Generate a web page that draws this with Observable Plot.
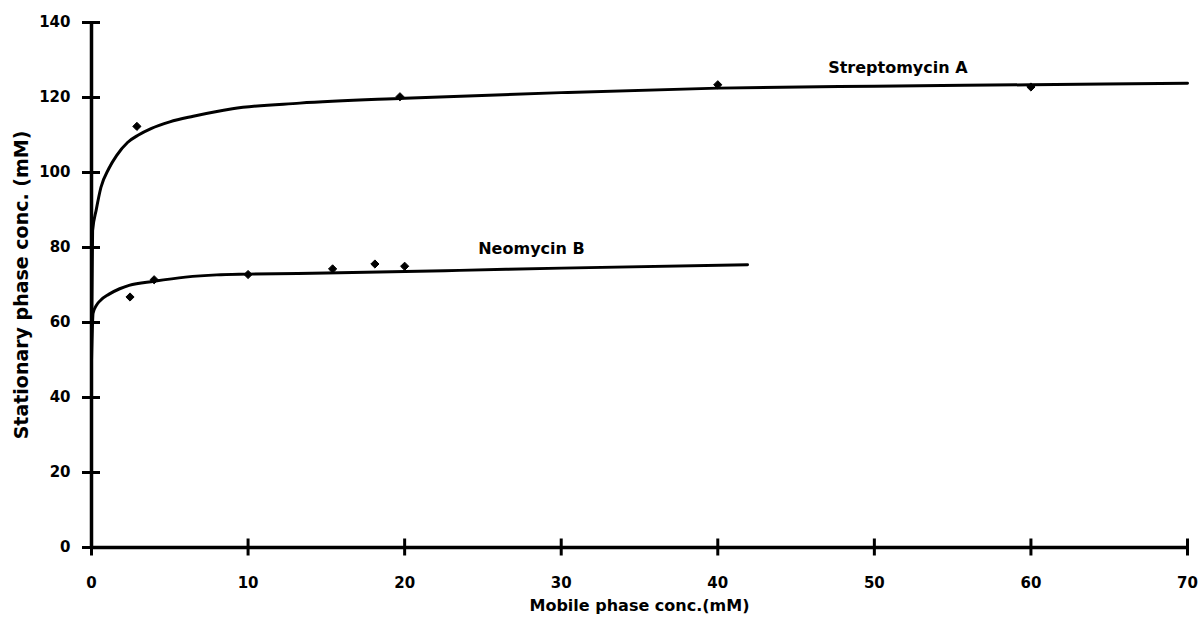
<!DOCTYPE html>
<html>
<head>
<meta charset="utf-8">
<script src="https://cdn.jsdelivr.net/npm/d3@7"></script>
<script src="https://cdn.jsdelivr.net/npm/@observablehq/plot@0.6"></script>
<style>
  html, body { margin: 0; padding: 0; background: #fff; }
  #chart svg { display: block; }
</style>
</head>
<body>
<div id="chart"></div>
<script>
// Tick values
const xTicks = [0, 10, 20, 30, 40, 50, 60, 70];
const yTicks = [0, 20, 40, 60, 80, 100, 120, 140];

// Fitted curves
const strepCurveX = [0, 0.07, 0.3, 0.6, 1.1, 1.6, 2.3, 3.0, 3.8, 5.0, 6.5, 9.0, 13.3, 20, 30, 40, 50, 60, 70];
const strepCurveY = [55, 84.5, 90, 96, 101, 104.5, 108, 110, 111.7, 113.5, 115, 117, 118.5, 119.8, 121.3, 122.5, 123, 123.4, 123.8];
const neoCurveX = [0, 0.1, 0.3, 0.6, 1.1, 1.8, 2.4, 4.0, 6.0, 8.0, 10, 15, 23.5, 30, 41.9];
const neoCurveY = [50, 62.5, 64.5, 66, 67.5, 69, 69.9, 71, 72.1, 72.7, 72.9, 73.2, 73.9, 74.5, 75.4];

// Measured points
const strepX = [2.9, 19.7, 40, 60];
const strepY = [112.3, 120.2, 123.4, 122.8];
const neoX = [2.46, 4.0, 10, 15.4, 18.1, 20];
const neoY = [66.8, 71.4, 72.8, 74.3, 75.6, 75];

// Series labels
const seriesLabels = ["Streptomycin A", "Neomycin B"];
const labelX = [51.5, 28.1];
const labelY = [128, 79.7];

const xTitle = "Mobile phase conc.(mM)";
const yTitle = "Stationary phase conc. (mM)";

const zip = (xs, ys) => xs.map((x, i) => ({x, y: ys[i]}));
const strepCurve = zip(strepCurveX, strepCurveY);
const neoCurve = zip(neoCurveX, neoCurveY);
const strepPts = zip(strepX, strepY);
const neoPts = zip(neoX, neoY);
const labels = seriesLabels.map((t, i) => ({t, x: labelX[i], y: labelY[i]}));

const font = "DejaVu Sans, sans-serif";

const chart = Plot.plot({
  width: 1200,
  height: 628,
  marginLeft: 91,
  marginRight: 13,
  marginTop: 22,
  marginBottom: 81,
  style: {fontFamily: font, fontWeight: "bold", fontSize: "15px", color: "#000", background: "#fff"},
  x: {domain: [0, 70]},
  y: {domain: [0, 140]},
  marks: [
    // tick marks crossing axes
    Plot.axisY({ticks: yTicks, tickSize: 18, dx: 9, text: null, strokeWidth: 3, label: null}),
    Plot.axisX({ticks: xTicks, tickSize: 17, dy: -8.5, text: null, strokeWidth: 3, label: null}),
    // tick labels
    Plot.axisY({ticks: yTicks, tickSize: 0, tickPadding: 21, label: null, fontSize: 15}),
    Plot.axisX({ticks: xTicks, tickSize: 0, tickPadding: 30, label: null, fontSize: 15}),
    // axis lines
    Plot.ruleX([0], {strokeWidth: 3.5}),
    Plot.ruleY([0], {strokeWidth: 3.5}),
    // curves
    Plot.line(strepCurve, {x: "x", y: "y", curve: "monotone-x", strokeWidth: 3, stroke: "#000"}),
    Plot.line(neoCurve, {x: "x", y: "y", curve: "monotone-x", strokeWidth: 3, stroke: "#000"}),
    // points
    Plot.dot(strepPts, {x: "x", y: "y", symbol: "diamond2", r: 3.7, fill: "#000", stroke: "#000", strokeWidth: 1}),
    Plot.dot(neoPts, {x: "x", y: "y", symbol: "diamond2", r: 3.7, fill: "#000", stroke: "#000", strokeWidth: 1}),
    // series labels
    Plot.text(labels, {x: "x", y: "y", text: "t", fontSize: 16, fontWeight: "bold", fill: "#000"}),
    // axis titles
    Plot.text([xTitle], {frameAnchor: "bottom", dy: 63, fontSize: 16, fontWeight: "bold", fill: "#000", textAnchor: "middle"}),
    Plot.text([yTitle], {frameAnchor: "left", rotate: -90, dx: -70, fontSize: 19, fontWeight: "bold", fill: "#000", textAnchor: "middle"})
  ]
});

document.getElementById("chart").appendChild(chart);
</script>
</body>
</html>
